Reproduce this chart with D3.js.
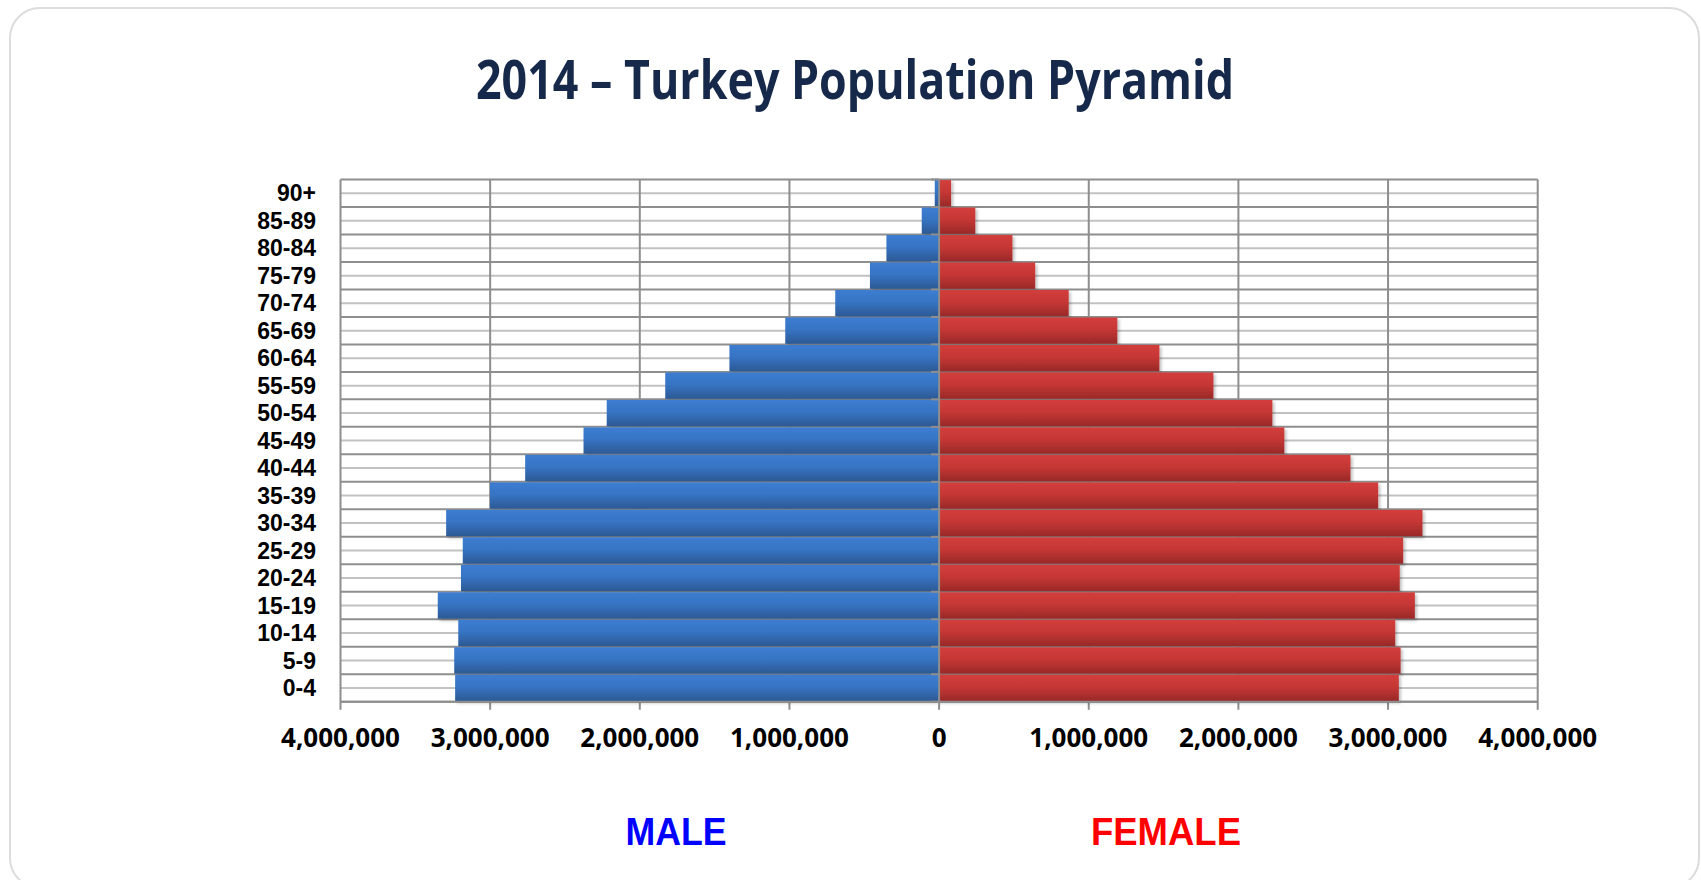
<!DOCTYPE html>
<html>
<head>
<meta charset="utf-8">
<script src="https://cdn.jsdelivr.net/npm/d3@7"></script>
<style>
  body { margin: 0; background: #fff; }
  svg { display: block; }
</style>
</head>
<body>
<div id="chart"></div>
<script>
// Dades de la piràmide (Turquia 2014), llegides del gràfic
const ageGroups = ['0-4', '5-9', '10-14', '15-19', '20-24', '25-29', '30-34', '35-39', '40-44',
    '45-49', '50-54', '55-59', '60-64', '65-69', '70-74', '75-79', '80-84', '85-89', '90+'];
const maleValues = [3234000, 3240000, 3213000, 3350000, 3195000, 3183000, 3294000, 3001000, 2766000,
    2376000, 2221000, 1830000, 1401000, 1028000, 694000, 462000, 352000, 116000, 29000];
const femaleValues = [3072000, 3084000, 3048000, 3179000, 3078000, 3101000, 3230000, 2934000, 2749000,
    2307000, 2227000, 1833000, 1472000, 1191000, 866000, 642000, 490000, 242000, 80000];
const xTicks = [-4000000, -3000000, -2000000, -1000000, 0, 1000000, 2000000, 3000000, 4000000];
const titleText = '2014 – Turkey Population Pyramid';

const W = 1701, H = 880;
const plot = { left: 340.5, right: 1537.7, top: 179.5, bottom: 701.7 };

const svg = d3.select('#chart').append('svg')
    .attr('width', W)
    .attr('height', H);

// Gradients i ombra de les barres
const defs = svg.append('defs');
function addGradient(id, stops) {
    const g = defs.append('linearGradient')
        .attr('id', id)
        .attr('x1', 0).attr('y1', 0).attr('x2', 0).attr('y2', 1);
    stops.forEach(s => g.append('stop').attr('offset', s[0]).attr('stop-color', s[1]));
}
addGradient('gradMale', [['0%', '#3c7dd1'], ['45%', '#3774c4'], ['100%', '#2c5994']]);
addGradient('gradFemale', [['0%', '#d23e3c'], ['45%', '#c63735'], ['100%', '#992928']]);

const shadow = defs.append('filter').attr('id', 'barShadow')
    .attr('x', '-5%').attr('y', '-20%').attr('width', '110%').attr('height', '160%');
shadow.append('feDropShadow')
    .attr('dx', 2).attr('dy', 2).attr('stdDeviation', 1.5)
    .attr('flood-color', '#000').attr('flood-opacity', 0.25);

// Targeta de fons
svg.append('rect')
    .attr('x', 10).attr('y', 8)
    .attr('width', 1689).attr('height', 880)
    .attr('rx', 30)
    .attr('fill', '#fff')
    .attr('stroke', '#dcdcdc')
    .attr('stroke-width', 2);

// Títol
svg.append('text')
    .attr('x', 855)
    .attr('y', 99)
    .attr('text-anchor', 'middle')
    .attr('textLength', 758)
    .attr('lengthAdjust', 'spacingAndGlyphs')
    .style('font-family', "'Open Sans', sans-serif")
    .style('font-weight', 700)
    .style('font-size', '53px')
    .style('fill', '#16294a')
    .text(titleText);

// Escales
const x = d3.scaleLinear()
    .domain([-4000000, 4000000])
    .range([plot.left, plot.right]);

const y = d3.scaleBand()
    .domain(ageGroups.slice().reverse())
    .range([plot.top, plot.bottom])
    .paddingInner(0.04)
    .paddingOuter(0.02);

const rowEdges = d3.range(ageGroups.length + 1).map(i => plot.top + i * (plot.bottom - plot.top) / ageGroups.length);
const rowMids = d3.range(ageGroups.length).map(i => plot.top + (i + 0.5) * (plot.bottom - plot.top) / ageGroups.length);

const grid = svg.append('g');

// Línies horitzontals: límits de fila (fosques) i mitjos (clares)
grid.selectAll('.mid')
    .data(rowMids)
    .enter().append('line')
    .attr('x1', plot.left).attr('x2', plot.right)
    .attr('y1', d => d).attr('y2', d => d)
    .attr('stroke', '#c2c2c2')
    .attr('stroke-width', 2);

grid.selectAll('.edge')
    .data(rowEdges)
    .enter().append('line')
    .attr('x1', plot.left).attr('x2', plot.right)
    .attr('y1', d => d).attr('y2', d => d)
    .attr('stroke', '#8e8e8e')
    .attr('stroke-width', 2);

// Línies verticals de la graella
grid.selectAll('.vgrid')
    .data(xTicks.filter(d => d !== 0))
    .enter().append('line')
    .attr('x1', d => x(d)).attr('x2', d => x(d))
    .attr('y1', plot.top).attr('y2', plot.bottom + 8)
    .attr('stroke', '#8e8e8e')
    .attr('stroke-width', 2);

// Barres
const bars = svg.append('g').attr('filter', 'url(#barShadow)');

bars.selectAll('.male')
    .data(ageGroups)
    .enter().append('rect')
    .attr('x', (d, i) => x(-maleValues[i]))
    .attr('y', d => y(d))
    .attr('width', (d, i) => x(0) - x(-maleValues[i]))
    .attr('height', y.bandwidth())
    .attr('fill', 'url(#gradMale)');

bars.selectAll('.female')
    .data(ageGroups)
    .enter().append('rect')
    .attr('x', x(0))
    .attr('y', d => y(d))
    .attr('width', (d, i) => x(femaleValues[i]) - x(0))
    .attr('height', y.bandwidth())
    .attr('fill', 'url(#gradFemale)');

// Eix vertical al zero amb marques
svg.append('line')
    .attr('x1', x(0)).attr('x2', x(0))
    .attr('y1', plot.top).attr('y2', plot.bottom + 8)
    .attr('stroke', '#8e8e8e')
    .attr('stroke-width', 2);

svg.selectAll('.ytick')
    .data(rowEdges)
    .enter().append('line')
    .attr('x1', x(0) - 8).attr('x2', x(0))
    .attr('y1', d => d).attr('y2', d => d)
    .attr('stroke', '#8e8e8e')
    .attr('stroke-width', 2);

// Eix X
svg.append('line')
    .attr('x1', plot.left).attr('x2', plot.right)
    .attr('y1', plot.bottom).attr('y2', plot.bottom)
    .attr('stroke', '#8e8e8e')
    .attr('stroke-width', 2);

const fmt = d3.format(',');
svg.selectAll('.xlabel')
    .data(xTicks)
    .enter().append('text')
    .attr('x', d => x(d))
    .attr('y', 747)
    .attr('text-anchor', 'middle')
    .style('font-family', "'Open Sans', sans-serif")
    .style('font-weight', 700)
    .style('font-size', '26px')
    .style('fill', '#000')
    .text(d => fmt(Math.abs(d)));

// Etiquetes d'edat
svg.selectAll('.ylabel')
    .data(ageGroups)
    .enter().append('text')
    .attr('x', 316)
    .attr('y', d => y(d) + y.bandwidth() / 2 + 8.2)
    .attr('text-anchor', 'end')
    .style('font-family', "'Liberation Sans', Arial, sans-serif")
    .style('font-weight', 700)
    .style('font-size', '23px')
    .style('fill', '#000')
    .text(d => d);

// Llegenda
svg.append('text')
    .attr('x', 676)
    .attr('y', 845)
    .attr('text-anchor', 'middle')
    .attr('textLength', 101)
    .attr('lengthAdjust', 'spacingAndGlyphs')
    .style('font-family', "'Liberation Sans', Arial, sans-serif")
    .style('font-weight', 700)
    .style('font-size', '38px')
    .style('fill', '#0000ff')
    .text('MALE');

svg.append('text')
    .attr('x', 1166)
    .attr('y', 845)
    .attr('text-anchor', 'middle')
    .attr('textLength', 150)
    .attr('lengthAdjust', 'spacingAndGlyphs')
    .style('font-family', "'Liberation Sans', Arial, sans-serif")
    .style('font-weight', 700)
    .style('font-size', '38px')
    .style('fill', '#ff0000')
    .text('FEMALE');
</script>
</body>
</html>
